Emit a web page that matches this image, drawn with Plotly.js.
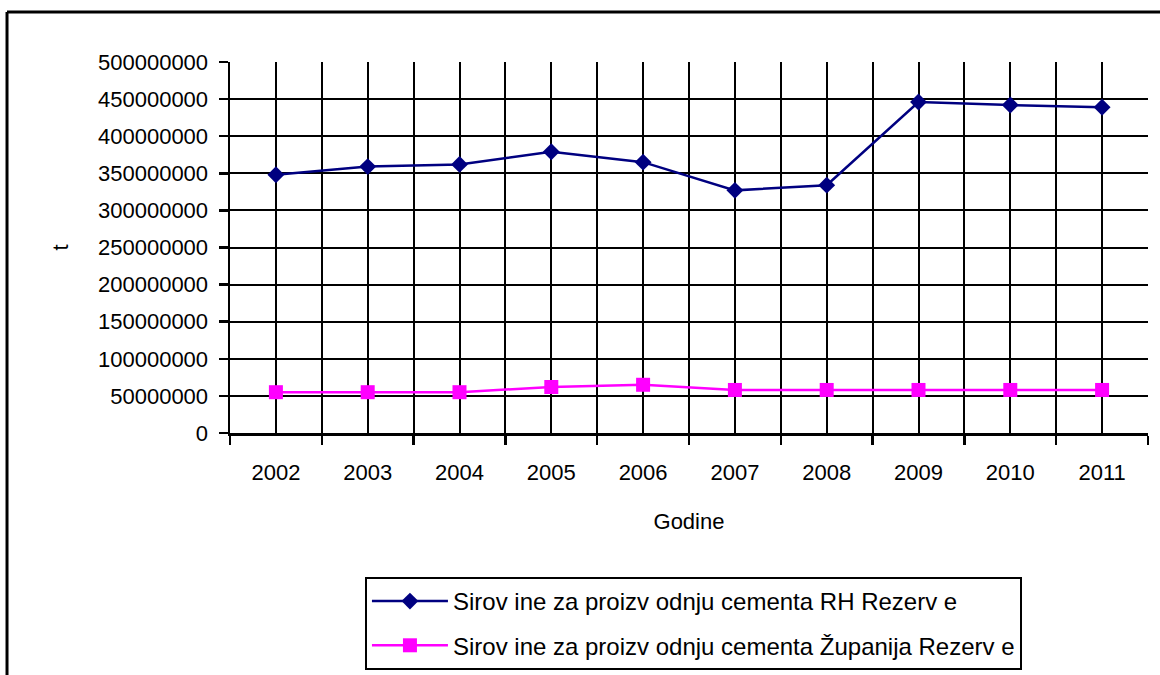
<!DOCTYPE html>
<html>
<head>
<meta charset="utf-8">
<script src="https://cdn.plot.ly/plotly-3.0.1.min.js"></script>
<style>html,body{margin:0;padding:0;background:#fff;}#chart{width:1160px;height:675px;}</style>
</head>
<body>
<div id="chart"></div>
<script>
var years = ['2002','2003','2004','2005','2006','2007','2008','2009','2010','2011'];
var rhRezerve = [348000000, 359000000, 362000000, 379000000, 365000000, 327000000, 334000000, 446000000, 442000000, 439000000];
var zupanijaRezerve = [55000000, 55000000, 55000000, 62000000, 65000000, 58000000, 58000000, 58000000, 58000000, 58000000];
var seriesNames = ['Sirov ine za proizv odnju cementa RH Rezerv e', 'Sirov ine za proizv odnju cementa Županija Rezerv e'];
var yTitle = 't';
var xTitle = 'Godine';

var xIdx = years.map(function(_, i){ return i; });
var font = 'Liberation Sans, Arial, sans-serif';

var traces = [
  {x: xIdx, y: rhRezerve, name: seriesNames[0], type: 'scatter', mode: 'lines+markers',
   legendgroup: 'a',
   line: {color: '#000080', width: 2.5},
   marker: {symbol: 'diamond', size: 13, color: '#000080'}, hoverinfo: 'skip'},
  {x: xIdx, y: zupanijaRezerve, name: seriesNames[1], type: 'scatter', mode: 'lines+markers',
   legendgroup: 'b',
   line: {color: '#FF00FF', width: 2.5},
   marker: {symbol: 'square', size: 14, color: '#FF00FF'}, hoverinfo: 'skip'}
];

var layout = {
  width: 1160, height: 675,
  margin: {l: 230, r: 12, t: 62, b: 242, autoexpand: false},
  paper_bgcolor: '#fff', plot_bgcolor: '#fff',
  font: {family: font, size: 22, color: '#000'},
  showlegend: true,
  legend: {x: 0.147, y: 0.1452, yref: 'container', xanchor: 'left', yanchor: 'top',
           bordercolor: '#000', borderwidth: 2, bgcolor: '#fff',
           font: {family: font, size: 24, color: '#000'},
           itemwidth: 76,
           traceorder: 'grouped', tracegroupgap: 10},
  xaxis: {
    automargin: false,
    range: [-0.5, years.length - 0.5],
    tickmode: 'array', tickvals: xIdx, ticktext: years,
    ticks: '', showgrid: true, gridcolor: '#000', gridwidth: 2,
    showline: true, linecolor: '#000', linewidth: 2.5,
    zeroline: false, ticklabelstandoff: 18,
    tickfont: {family: font, size: 22, color: '#000'},
    minor: {tick0: -0.5, dtick: 1, ticks: 'outside', ticklen: 9, tickwidth: 2.5, tickcolor: '#000',
            showgrid: true, gridcolor: '#000', gridwidth: 2},
    title: {text: xTitle, font: {family: font, size: 22, color: '#000'}, standoff: 30}
  },
  yaxis: {
    automargin: false,
    range: [0, 500000000], dtick: 50000000, tick0: 0, tickformat: 'd',
    ticks: 'outside', ticklen: 9, tickwidth: 2.5, tickcolor: '#000',
    showgrid: true, gridcolor: '#000', gridwidth: 2,
    showline: true, linecolor: '#000', linewidth: 2.5, zeroline: false,
    ticklabelstandoff: 6,
    tickfont: {family: font, size: 22, color: '#000'},
    title: {text: yTitle, font: {family: font, size: 22, color: '#000'}, standoff: 24}
  },
  shapes: [
    {type: 'line', xref: 'paper', yref: 'paper', x0: -0.2429, x1: 1.1, y0: 1.1348, y1: 1.1348,
     line: {color: '#000', width: 3}},
    {type: 'line', xref: 'paper', yref: 'paper', x0: -0.2429, x1: -0.2429, y0: 1.1348, y1: -0.7,
     line: {color: '#000', width: 3}}
  ]
};

Plotly.newPlot('chart', traces, layout, {displayModeBar: false, staticPlot: true});
</script>
</body>
</html>
